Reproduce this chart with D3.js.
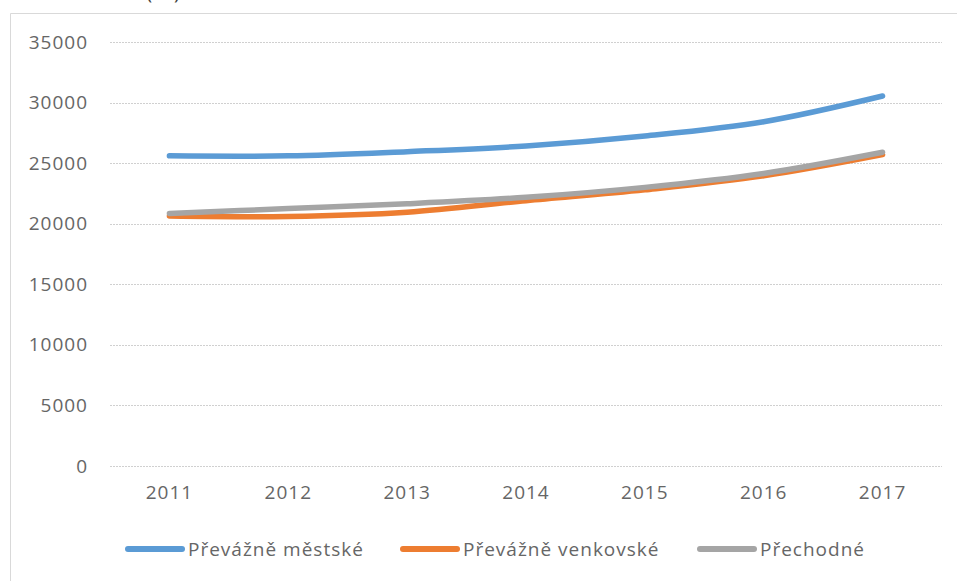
<!DOCTYPE html>
<html>
<head>
<meta charset="utf-8">
<script src="https://cdn.jsdelivr.net/npm/d3@7/dist/d3.min.js"></script>
<style>
  html, body { margin: 0; padding: 0; background: #fff; }
  svg { display: block; }
  text { font-family: "Open Sans", "DejaVu Sans", sans-serif; fill: #595959; }
</style>
</head>
<body>
<svg id="chart" width="958" height="581"></svg>
<script>
// Years on the horizontal axis
const years = ["2011", "2012", "2013", "2014", "2015", "2016", "2017"];
// Series names and values (Kč)
const seriesNames = ["Převážně městské", "Převážně venkovské", "Přechodné"];
const mestske   = [25600, 25600, 25950, 26420, 27240, 28420, 30540];
const venkovske = [20640, 20600, 20950, 21900, 22800, 23950, 25700];
const prechodne = [20850, 21250, 21650, 22180, 23000, 24150, 25900];
const yTicks = [0, 5000, 10000, 15000, 20000, 25000, 30000, 35000];
const colors = ["#5b9bd5", "#ed7d31", "#a5a5a5"];

const series = [mestske, venkovske, prechodne];

const svg = d3.select("#chart");
const plot = { left: 110, right: 942, top: 42, bottom: 466 };
const labelSize = "19px";
const labelColor = "#666666";
const labelSpacing = "1px";

// Outer chart frame (partly out of view at the top)
svg.append("path")
  .attr("d", "M10.5,600 V13.5 H957")
  .attr("fill", "none").attr("stroke", "#d9d9d9").attr("stroke-width", 1);

// Unit caption above the frame
svg.append("text")
  .attr("x", 163).attr("y", -1)
  .attr("text-anchor", "middle")
  .style("font-size", "20px").style("fill", "#404040")
  .text("(Kč)");

const x = d3.scaleBand().domain(years).range([plot.left, plot.right]).padding(0);
const y = d3.scaleLinear().domain([0, 35000]).range([plot.bottom, plot.top]);

// Horizontal gridlines and value labels
const yAxis = d3.axisLeft(y).tickValues(yTicks).tickSize(-(plot.right - plot.left)).tickPadding(22).tickFormat(d3.format("d"));
const gy = svg.append("g").attr("transform", `translate(${plot.left},0)`).call(yAxis);
gy.select(".domain").remove();
gy.selectAll("line").attr("stroke", "#d0d0d0").attr("stroke-dasharray", "2,1").attr("shape-rendering", "crispEdges");
gy.selectAll("text").style("font-size", labelSize).style("fill", labelColor)
  .style("letter-spacing", labelSpacing).attr("font-family", "Open Sans");

// Year labels
const xAxis = d3.axisBottom(x).tickSize(0).tickPadding(20);
const gx = svg.append("g").attr("transform", `translate(0,${plot.bottom})`).call(xAxis);
gx.select(".domain").remove();
gx.selectAll("text").style("font-size", labelSize).style("fill", labelColor)
  .style("letter-spacing", labelSpacing).attr("font-family", "Open Sans");

// Smoothed series lines
const line = d3.line()
  .x((d, i) => x(years[i]) + x.bandwidth() / 2)
  .y(d => y(d))
  .curve(d3.curveCatmullRom.alpha(0.5));

series.forEach((vals, k) => {
  svg.append("path")
    .datum(vals)
    .attr("d", line)
    .attr("fill", "none")
    .attr("stroke", colors[k])
    .attr("stroke-width", 5.5)
    .attr("stroke-linecap", "round")
    .attr("stroke-linejoin", "round");
});

// Legend
const legendX = [128, 403, 700];
const legendY = 549;
seriesNames.forEach((name, k) => {
  const g = svg.append("g").attr("transform", `translate(${legendX[k]},${legendY})`);
  g.append("line")
    .attr("x1", 0).attr("x2", 54).attr("y1", 0).attr("y2", 0)
    .attr("stroke", colors[k]).attr("stroke-width", 6).attr("stroke-linecap", "round");
  g.append("text")
    .attr("x", 60).attr("y", 0).attr("dy", "0.35em")
    .style("font-size", labelSize).style("fill", labelColor)
    .style("letter-spacing", labelSpacing)
    .text(name);
});
</script>
</body>
</html>
